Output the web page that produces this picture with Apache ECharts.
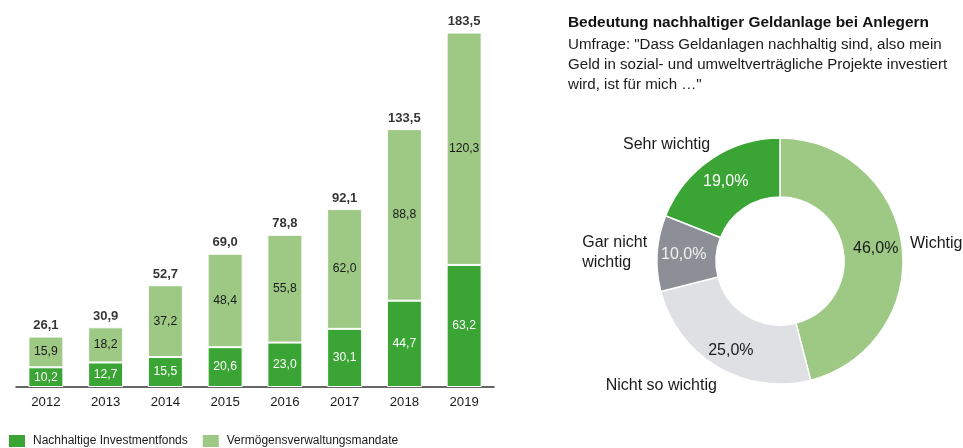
<!DOCTYPE html>
<html><head><meta charset="utf-8">
<script src="https://cdn.jsdelivr.net/npm/echarts@6/dist/echarts.min.js"></script>
<style>html,body{margin:0;padding:0;background:#fff}#c{width:963px;height:448px}</style>
</head><body><div id="c"></div>
<script>
const years = ['2012','2013','2014','2015','2016','2017','2018','2019'];
const fonds = [10.2,12.7,15.5,20.6,23.0,30.1,44.7,63.2];
const mandate = [15.9,18.2,37.2,48.4,55.8,62.0,88.8,120.3];
const totals = [26.1,30.9,52.7,69.0,78.8,92.1,133.5,183.5];
const seriesNames = ['Nachhaltige Investmentfonds','Vermögensverwaltungsmandate'];
const pieCategories = ['Wichtig','Nicht so wichtig','Gar nicht\nwichtig','Sehr wichtig'];
const pieValues = [46.0,25.0,10.0,19.0];
const pieTitle = 'Bedeutung nachhaltiger Geldanlage bei Anlegern';
const pieSubtitle = 'Umfrage: "Dass Geldanlagen nachhaltig sind, also mein\nGeld in sozial- und umweltverträgliche Projekte investiert\nwird, ist für mich …"';

const FONT = '"Liberation Sans", Arial, sans-serif';
const DARK = '#3aa534', LIGHT = '#9dc985', GRAY = '#8c9096', LGRAY = '#dfe0e3';
const fmt = v => v.toFixed(1).replace('.', ',');
const pieColors = [LIGHT, LGRAY, GRAY, DARK];
const pieLabelColors = ['#1a1a1a', '#1a1a1a', '#f0f0f0', '#ffffff'];

const chart = echarts.init(document.getElementById('c'), null, {renderer: 'canvas'});
chart.setOption({
  animation: false,
  textStyle: {fontFamily: FONT},
  title: [
    {text: pieTitle, left: 568, top: 15, padding: 0,
     textStyle: {fontFamily: FONT, fontSize: 15.4, fontWeight: 'bold', color: '#111', lineHeight: 16}},
    {text: pieSubtitle, left: 568, top: 35, padding: 0,
     textStyle: {fontFamily: FONT, fontSize: 15.1, fontWeight: 'normal', color: '#1a1a1a', lineHeight: 20}}
  ],
  legend: {
    left: 7, top: 433, itemWidth: 18, itemHeight: 14, itemGap: 13, padding: 0,
    icon: 'rect', data: seriesNames,
    textStyle: {fontFamily: FONT, fontSize: 12, color: '#1a1a1a', padding: [0, 0, 0, 2]}
  },
  grid: {left: 16, width: 478, top: 20, height: 367},
  xAxis: {
    type: 'category', data: years,
    axisLine: {lineStyle: {color: '#333', width: 1.5}},
    axisTick: {show: false},
    axisLabel: {fontFamily: FONT, fontSize: 13.2, color: '#1a1a1a', margin: 9}
  },
  yAxis: {type: 'value', min: 0, max: 190, show: false, splitLine: {show: false}},
  series: [
    {name: seriesNames[0], type: 'bar', stack: 'a', data: fonds, barWidth: 35,
     itemStyle: {color: DARK, borderColor: '#fff', borderWidth: 1},
     label: {show: true, position: 'inside', color: '#fff', fontFamily: FONT, fontSize: 12.2,
             formatter: p => fmt(p.value)}},
    {name: seriesNames[1], type: 'bar', stack: 'a', data: mandate, barWidth: 35,
     itemStyle: {color: LIGHT, borderColor: '#fff', borderWidth: 1},
     label: {show: true, position: 'inside', color: '#1a1a1a', fontFamily: FONT, fontSize: 12.2,
             formatter: p => fmt(p.value)}},
    {name: 'Summe', type: 'scatter', data: totals, symbolSize: 1,
     itemStyle: {color: 'rgba(0,0,0,0)'}, silent: true,
     label: {show: true, position: 'top', distance: 4, color: '#000', fontFamily: FONT,
             fontSize: 13, fontWeight: 'bold', formatter: p => fmt(p.value)}},
    {name: 'Umfrage', type: 'pie', center: [780, 261], radius: [64, 123], startAngle: 90,
     clockwise: true, silent: true,
     itemStyle: {borderColor: '#fff', borderWidth: 1.5},
     label: {show: true, position: 'inside', fontFamily: FONT, fontSize: 16},
     labelLine: {show: false},
     labelLayout: p => (p.dataIndex === 1 ? {dy: 7} : {}),
     data: pieValues.map((v, i) => ({
       name: pieCategories[i], value: v,
       itemStyle: {color: pieColors[i]},
       label: {color: pieLabelColors[i], formatter: fmt(v) + '%'}
     }))},
    {name: 'Namen', type: 'pie', center: [780, 261], radius: [64, 123], startAngle: 90,
     clockwise: true, silent: true, avoidLabelOverlap: false,
     itemStyle: {color: 'rgba(0,0,0,0)', borderWidth: 0},
     label: {show: true, position: 'outside', overflow: 'none', fontFamily: FONT, fontSize: 16,
             color: '#1a1a1a', distanceToLabelLine: 5,
             formatter: p => '{a|' + p.name + '}',
             rich: {a: {fontFamily: FONT, fontSize: 16, color: '#1a1a1a', lineHeight: 20}}},
     labelLine: {show: false, length: 3, length2: 0},
     labelLayout: p => {
       if (p.dataIndex === 0) return {dy: -2};
       if (p.dataIndex === 1) return {dx: 6, dy: 16};
       if (p.dataIndex === 2) return {dx: -3};
       if (p.dataIndex === 3) return {dx: 6, dy: -12};
       return {};
     },
     data: pieValues.map((v, i) => ({
       name: pieCategories[i], value: v,
       label: i === 2 ? {rich: {a: {width: 64, align: 'left', fontFamily: FONT, fontSize: 16, color: '#1a1a1a', lineHeight: 20}}} : {}
     }))}
  ]
});
</script>
</body></html>
